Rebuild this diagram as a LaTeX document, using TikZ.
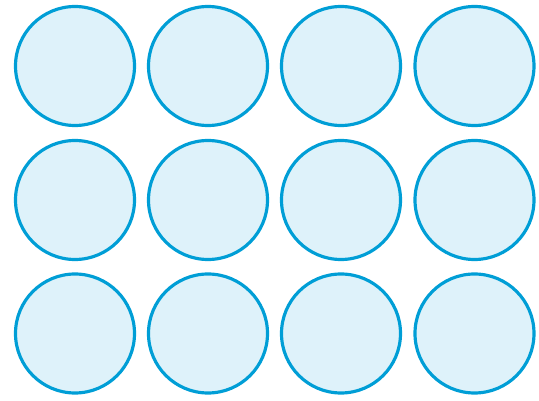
\documentclass[tikz,border=0pt]{standalone}
\definecolor{bord}{RGB}{0,158,214}
\definecolor{fond}{RGB}{222,242,250}
\begin{document}
\begin{tikzpicture}[
  rond/.style={circle, draw=bord, fill=fond, line width=0.9pt, inner sep=0pt, minimum size=1.19cm}]
  \useasboundingbox (0,0) rectangle (5.39,4.01);
  % Grille de disques
  \foreach \j/\y in {1/3.35, 2/2.01, 3/0.675}
    \foreach \i/\x in {1/0.75, 2/2.08, 3/3.41, 4/4.745}
      \node[rond] (d\j\i) at (\x,\y) {};
\end{tikzpicture}
\end{document}
